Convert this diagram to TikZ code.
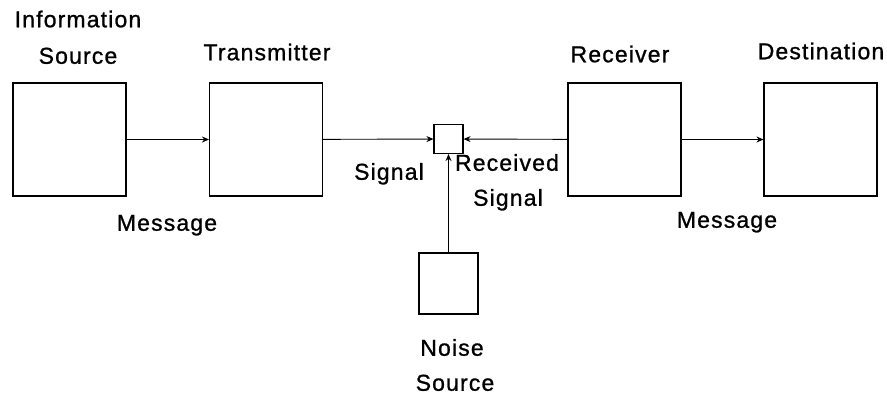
\documentclass[tikz,border=0pt]{standalone}
\usepackage{fontspec}
\setmainfont{Liberation Sans}[LetterSpace=5, FakeBold=1]
\usetikzlibrary{arrows.meta,positioning,calc}

\begin{document}
\begin{tikzpicture}[x=1pt, y=-1pt,
    block/.style={draw, line width=1.1pt, minimum width=113pt, minimum height=113pt, inner sep=0pt},
    label/.style={font=\fontsize{23}{27}\selectfont, text height=11.5pt, text depth=0pt, inner sep=0pt},
    arrow/.style={line width=0.9pt, ->, >={Stealth[length=7pt, width=6pt]}}]

        \useasboundingbox (0,0) rectangle (887,397);

        % Blocks
        \node [block] (Source) at (69.5,139.5) {};
        \node [block] (Transmitter) at (266,139.5) {};
        \node [block, minimum width=29pt, minimum height=29pt] (Channel) at (448.5,139) {};
        \node [block] (Receiver) at (624.5,139.5) {};
        \node [block] (Destination) at (820.5,139.5) {};
        \node [block, minimum width=59pt, minimum height=61pt] (Noise) at (448.5,283.5) {};

        % Titles
        \node [label] (Source_title1) at (78,21.5) {Information};
        \node [label] (Source_title2) at (78,58) {Source};
        \node [label] (Transmitter_title) at (267,54.5) {Transmitter};
        \node [label] (Receiver_title) at (620,56.5) {Receiver};
        \node [label] (Destination_title) at (821,53.5) {Destination};
        \node [label] (Noise_title1) at (452,350) {Noise};
        \node [label] (Noise_title2) at (455,385) {Source};

        % Signal labels
        \node [label] (Message_left) at (167,225) {Message};
        \node [label] (Signal_sent) at (389,174) {Signal};
        \node [label] (Signal_recv1) at (507,165) {Received};
        \node [label] (Signal_recv2) at (508,200) {Signal};
        \node [label] (Message_right) at (727,222) {Message};

        % Arrows
        \draw [arrow] (Source) -- (Transmitter);
        \draw [arrow] (Transmitter) -- (Channel);
        \draw [arrow] (Receiver) -- (Channel);
        \draw [arrow] (Receiver) -- (Destination);
        \draw [arrow] (Noise) -- (Channel);

    \end{tikzpicture}
\end{document}
